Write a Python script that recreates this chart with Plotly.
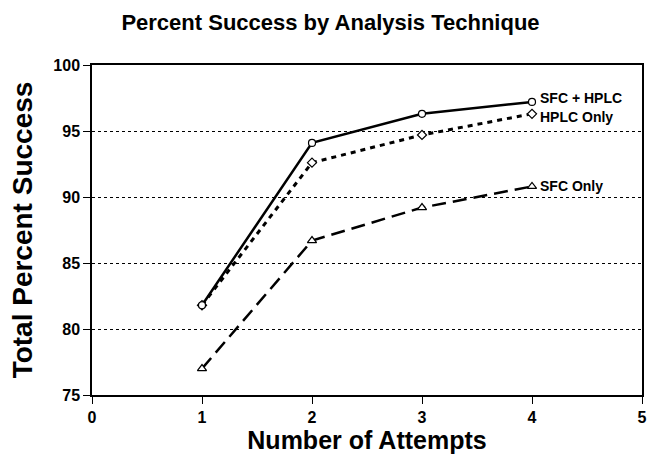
import plotly.graph_objects as go

attempts = [1, 2, 3, 4]
sfc_hplc = [81.8, 94.1, 96.3, 97.2]
hplc_only = [81.8, 92.6, 94.7, 96.3]
sfc_only = [77.0, 86.7, 89.2, 90.8]
series_names = ["SFC + HPLC", "HPLC Only", "SFC Only"]
x_ticks = [0, 1, 2, 3, 4, 5]
y_ticks = [75, 80, 85, 90, 95, 100]

FONT = "Liberation Sans, Arial, sans-serif"

fig = go.Figure()

# (values, dash, symbol, size, line width, label y-shift)
styles = {
    "SFC + HPLC": (sfc_hplc, "solid", "circle", 7, 2.5, 4),
    "HPLC Only": (hplc_only, "5px,5px", "diamond", 7, 3, -3),
    "SFC Only": (sfc_only, "14px,7px", "triangle-up", 8, 2.5, 0),
}
# draw so that SFC + HPLC ends on top
for name in ["SFC Only", "HPLC Only", "SFC + HPLC"]:
    vals, dash, sym, msize, lw, ys = styles[name]
    fig.add_trace(go.Scatter(
        x=attempts, y=vals, name=name,
        mode="lines+markers",
        line=dict(color="black", width=lw, dash=dash),
        marker=dict(symbol=sym, size=msize, color="white",
                    line=dict(color="black", width=1.2)),
        cliponaxis=False,
    ))
    fig.add_annotation(
        x=attempts[-1], y=vals[-1], text=name, showarrow=False,
        xanchor="left", yanchor="middle", xshift=6, yshift=ys,
        font=dict(family=FONT, size=14, color="black", weight="bold"),
    )

fig.update_layout(
    width=648, height=456,
    margin=dict(l=92, r=6, t=65, b=61, autoexpand=False),
    paper_bgcolor="white", plot_bgcolor="white",
    showlegend=False,
    title=dict(text="Percent Success by Analysis Technique", x=0.51, xanchor="center",
               y=0.952, yanchor="middle", yref="container",
               font=dict(family=FONT, size=22, color="black", weight="bold")),
    font=dict(family=FONT, color="black"),
)
fig.update_xaxes(
    range=[0, 5], tickvals=x_ticks, ticks="outside", ticklen=7, tickcolor="black",
    showline=True, linecolor="black", linewidth=1.5, mirror=True,
    showgrid=False, zeroline=False, automargin=False,
    tickfont=dict(family=FONT, size=16, color="black", weight="bold"),
    title=dict(text="Number of Attempts", standoff=0,
               font=dict(family=FONT, size=25, color="black", weight="bold")),
)
fig.update_yaxes(
    range=[75, 100], tickvals=y_ticks, ticks="outside", ticklen=7, tickcolor="black",
    showline=True, linecolor="black", linewidth=1.5, mirror=True,
    showgrid=True, gridcolor="black", gridwidth=1, griddash="dot",
    zeroline=False, automargin=False,
    tickfont=dict(family=FONT, size=16, color="black", weight="bold"),
    title=dict(text="Total Percent Success", standoff=13,
               font=dict(family=FONT, size=28, color="black", weight="bold")),
)

fig.write_html("out.html",
               config={"displayModeBar": False},
               post_script="document.body.style.margin='0';document.body.style.overflow='hidden';")
